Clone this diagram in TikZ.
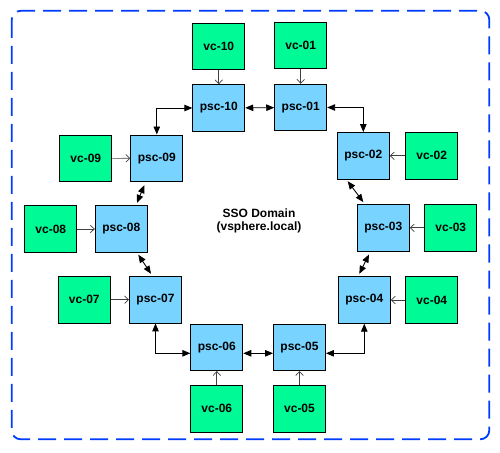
\documentclass[tikz,border=0pt]{standalone}
\usepackage{fontspec}
\setmainfont{Liberation Sans}
\usetikzlibrary{arrows.meta}
\definecolor{pscblue}{RGB}{120,211,255}
\definecolor{vcgreen}{RGB}{0,250,150}
\definecolor{ssoblue}{RGB}{0,60,255}
\newcommand\boxfont{\fontsize{12}{13.4}\selectfont\bfseries}
\begin{document}
\begin{tikzpicture}[
    x=1pt, y=-1pt,
    >={Triangle[length=8pt,width=6.5pt]},
    psc/.style={
        draw=black,
        line width=0.9pt,
        fill=pscblue,
        minimum width=52pt,
        minimum height=46.5pt,
        inner sep=0pt,
        font=\boxfont
    },
    vc/.style={
        psc,
        fill=vcgreen
    },
    link/.style={
        <->,
        line width=0.9pt,
        draw=black
    },
    feed/.style={
        -{Straight Barb[length=4pt,width=7.5pt]},
        line width=0.7pt,
        draw=black!75
    },
    ssoframe/.style={
        draw=ssoblue,
        line width=1.8pt,
        rounded corners=9pt,
        dash pattern=on 18pt off 8pt
    }
]

    \useasboundingbox (0,0) rectangle (500,452);
    \draw[ssoframe] (11.7,10.8) rectangle (489.3,439.3);

    \foreach \n/\x/\y in {
        10/218.8/108.0, 01/300.7/107.5, 02/363.3/155.8, 03/383.3/227.8,
        04/364.3/300.0, 05/299.5/347.3, 06/216.8/347.3, 07/155.5/299.7,
        08/121.3/229.0, 09/156.8/158.2
    }{
        \node[psc] (psc\n) at (\x,\y) {psc-\n};
    }

    \foreach \n/\x/\y in {
        10/218.8/46.3, 01/300.7/45.3, 02/431.7/155.8, 03/450.8/227.8,
        04/431.8/300.0, 05/299.5/408.7, 06/216.8/408.8, 07/84.3/299.7,
        08/50.8/229.0, 09/85.8/158.5
    }{
        \node[vc] (vc\n) at (\x,\y) {vc-\n};
        \draw[feed] (vc\n) -- (psc\n);
    }

    \draw[link] (psc10) -- (psc01);
    \draw[link] (psc10.west) -| (psc09.north);
    \draw[link] (psc01.east) -| (psc02.north);
    \draw[link] ([xshift=-15.6pt,yshift=-1.7pt]psc02.south) -- ([xshift=-20pt,yshift=2pt]psc03.north);
    \draw[link] ([xshift=-14.3pt,yshift=-3pt]psc03.south) -- ([xshift=-5pt,yshift=2.5pt]psc04.north);
    \draw[link] ([yshift=-6pt]psc05.east) -| (psc04.south);
    \draw[link] ([yshift=-6pt]psc06.east) -- ([yshift=-6pt]psc05.west);
    \draw[link] (psc07.south) |- ([yshift=-6pt]psc06.west);
    \draw[link] ([xshift=17pt,yshift=-2pt]psc08.south) -- ([xshift=-4.5pt,yshift=2.2pt]psc07.north);
    \draw[link] ([xshift=-12.5pt,yshift=-3.3pt]psc09.south) -- ([xshift=15.7pt,yshift=2.4pt]psc08.north);

    \node[font=\boxfont, align=center] (sso) at (259,220.8)
        {SSO Domain\\(vsphere.local)};

\end{tikzpicture}
\end{document}
